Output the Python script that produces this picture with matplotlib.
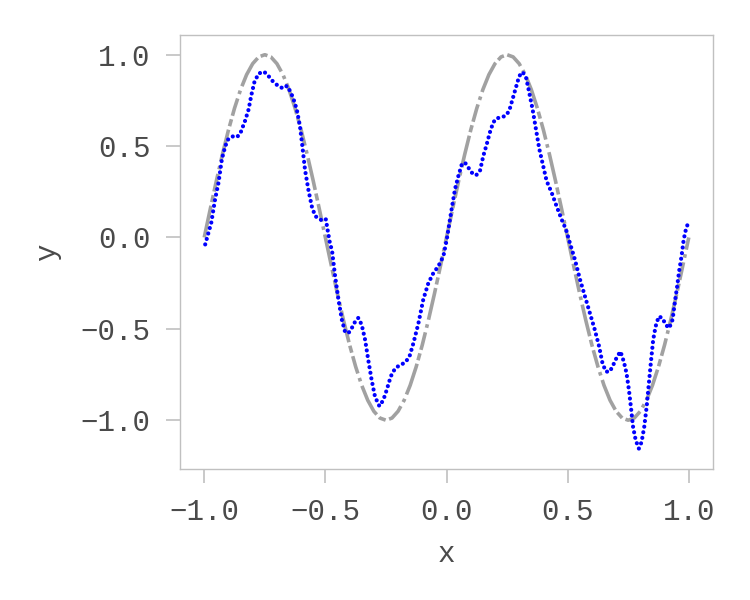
import numpy as np
import matplotlib
matplotlib.use("Agg")
import matplotlib.pyplot as plt

true_x = [-1.0, -0.975, -0.95, -0.925, -0.9, -0.875, -0.85, -0.825, -0.8, -0.775,
          -0.75, -0.725, -0.7, -0.675, -0.65, -0.625, -0.6, -0.575, -0.55, -0.525,
          -0.5, -0.475, -0.45, -0.425, -0.4, -0.375, -0.35, -0.325, -0.3, -0.275,
          -0.25, -0.225, -0.2, -0.175, -0.15, -0.125, -0.1, -0.075, -0.05, -0.025,
          0.0, 0.025, 0.05, 0.075, 0.1, 0.125, 0.15, 0.175, 0.2, 0.225,
          0.25, 0.275, 0.3, 0.325, 0.35, 0.375, 0.4, 0.425, 0.45, 0.475,
          0.5, 0.525, 0.55, 0.575, 0.6, 0.625, 0.65, 0.675, 0.7, 0.725,
          0.75, 0.775, 0.8, 0.825, 0.85, 0.875, 0.9, 0.925, 0.95, 0.975, 1.0]
true_y = [0.0, 0.156, 0.309, 0.454, 0.588, 0.707, 0.809, 0.891, 0.951, 0.988,
          1.0, 0.988, 0.951, 0.891, 0.809, 0.707, 0.588, 0.454, 0.309, 0.156,
          0.0, -0.156, -0.309, -0.454, -0.588, -0.707, -0.809, -0.891, -0.951, -0.988,
          -1.0, -0.988, -0.951, -0.891, -0.809, -0.707, -0.588, -0.454, -0.309, -0.156,
          0.0, 0.156, 0.309, 0.454, 0.588, 0.707, 0.809, 0.891, 0.951, 0.988,
          1.0, 0.988, 0.951, 0.891, 0.809, 0.707, 0.588, 0.454, 0.309, 0.156,
          0.0, -0.156, -0.309, -0.454, -0.588, -0.707, -0.809, -0.891, -0.951, -0.988,
          -1.0, -0.988, -0.951, -0.891, -0.809, -0.707, -0.588, -0.454, -0.309, -0.156, 0.0]

# model prediction (blue)
pred_x = [-0.996, -0.971, -0.955, -0.941, -0.927, -0.913, -0.900, -0.879, -0.865, -0.852,
          -0.831, -0.817, -0.806, -0.793, -0.776, -0.756, -0.742, -0.721, -0.700, -0.682,
          -0.669, -0.659, -0.645, -0.632, -0.618, -0.605, -0.595, -0.584, -0.570, -0.556,
          -0.542, -0.522, -0.508, -0.498, -0.490, -0.480, -0.473, -0.460, -0.446, -0.432,
          -0.419, -0.405, -0.391, -0.377, -0.364, -0.350, -0.336, -0.323, -0.309, -0.295,
          -0.277, -0.261, -0.247, -0.230, -0.212, -0.192, -0.171, -0.153, -0.137, -0.116,
          -0.096, -0.075, -0.054, -0.034, -0.013, 0.001, 0.021, 0.035, 0.049, 0.063,
          0.076, 0.090, 0.104, 0.122, 0.138, 0.152, 0.166, 0.179, 0.193, 0.207,
          0.228, 0.245, 0.259, 0.273, 0.287, 0.300, 0.314, 0.328, 0.341, 0.355,
          0.369, 0.383, 0.399, 0.413, 0.434, 0.454, 0.475, 0.493, 0.509, 0.530,
          0.551, 0.571, 0.592, 0.612, 0.630, 0.644, 0.658, 0.674, 0.688, 0.704,
          0.718, 0.732, 0.743, 0.753, 0.761, 0.770, 0.781, 0.794, 0.805, 0.816,
          0.826, 0.835, 0.843, 0.853, 0.863, 0.876, 0.891, 0.905, 0.919, 0.933,
          0.942, 0.952, 0.960, 0.970, 0.979, 0.988, 1.0]
pred_y = [-0.038, 0.08, 0.21, 0.30, 0.43, 0.50, 0.54, 0.555, 0.55, 0.566,
          0.64, 0.70, 0.776, 0.85, 0.896, 0.908, 0.896, 0.86, 0.835, 0.82,
          0.817, 0.83, 0.80, 0.76, 0.70, 0.61, 0.50, 0.37, 0.26, 0.17,
          0.117, 0.099, 0.09, 0.099, 0.035, -0.04, -0.066, -0.21, -0.34, -0.45,
          -0.515, -0.524, -0.496, -0.46, -0.44, -0.478, -0.56, -0.67, -0.78, -0.872,
          -0.923, -0.89, -0.835, -0.76, -0.716, -0.698, -0.685, -0.652, -0.58, -0.47,
          -0.34, -0.25, -0.194, -0.158, -0.103, -0.011, 0.154, 0.264, 0.337, 0.40,
          0.41, 0.383, 0.355, 0.34, 0.364, 0.447, 0.51, 0.575, 0.63, 0.652,
          0.658, 0.667, 0.694, 0.758, 0.823, 0.883, 0.905, 0.877, 0.795, 0.703,
          0.593, 0.484, 0.392, 0.31, 0.245, 0.172, 0.099, 0.044, -0.029, -0.121,
          -0.23, -0.32, -0.414, -0.505, -0.597, -0.69, -0.734, -0.734, -0.698, -0.652,
          -0.624, -0.68, -0.743, -0.835, -0.927, -1.037, -1.11, -1.155, -1.12, -1.037,
          -0.927, -0.80, -0.69, -0.56, -0.487, -0.432, -0.441, -0.478, -0.496, -0.45,
          -0.359, -0.267, -0.185, -0.103, -0.011, 0.044, 0.09]

xticks = [-1.0, -0.5, 0.0, 0.5, 1.0]
yticks = [-1.0, -0.5, 0.0, 0.5, 1.0]

plt.rcParams['font.family'] = ['Liberation Mono', 'DejaVu Sans']
plt.rcParams['axes.unicode_minus'] = True

fig = plt.figure(figsize=(7.5, 6), dpi=100)
ax = fig.add_axes([0.24, 0.218, 0.7107, 0.7237])

ax.plot(true_x, true_y, color='#8a8a8a', lw=2.6, alpha=0.8,
        linestyle=(0, (9, 1.0, 2, 1.0, 5, 1.3, 1, 1.3)), zorder=2)
ax.plot(pred_x, pred_y, color='#0000ff', lw=3.0,
        linestyle=(0, (0.01, 1.35)), dash_capstyle='round', zorder=3)

ax.set_xlim(-1.1, 1.1)
ax.set_ylim(-1.268, 1.108)
ax.set_xticks(xticks)
ax.set_yticks(yticks)
ax.set_xticklabels([f"{v:.1f}".replace('-', '\u2212') for v in xticks])
ax.set_yticklabels([f"{v:.1f}".replace('-', '\u2212') for v in yticks])

for s in ax.spines.values():
    s.set_color('#c0c0c0')
    s.set_linewidth(1.0)
ax.tick_params(axis='both', direction='out', length=10, width=1.2, color='#c0c0c0',
               labelsize=21, labelcolor='#4a4a4a', pad=11)
ax.set_xlabel('x', fontsize=21, color='#4a4a4a', labelpad=10)
ax.set_ylabel('y', fontsize=21, color='#4a4a4a', labelpad=14)

fig.savefig('out.png', dpi=100)
